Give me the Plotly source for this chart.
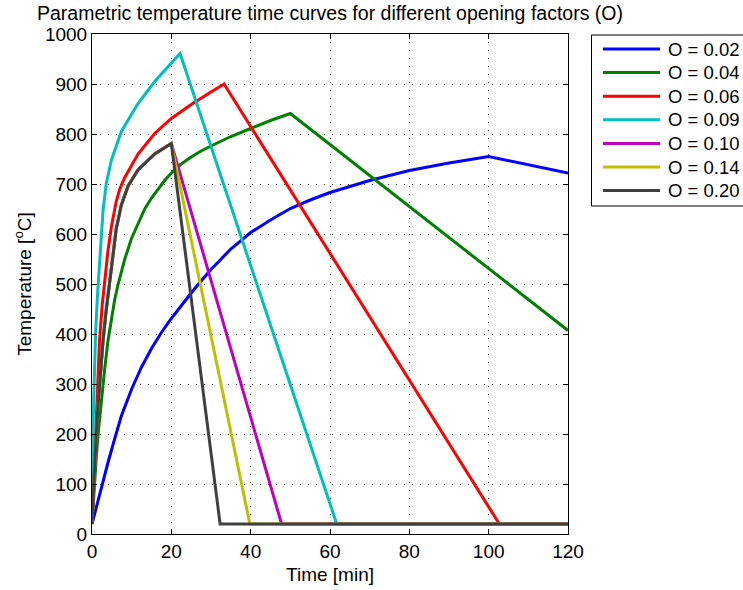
import plotly.graph_objects as go

# ---- data ----
labels = ["O = 0.02", "O = 0.04", "O = 0.06", "O = 0.09", "O = 0.10", "O = 0.14", "O = 0.20"]
colors = ["#0000FF", "#008000", "#FF0000", "#00BFBF", "#BF00BF", "#BFBF00", "#404040"]

t_002 = [0, 0.5, 1.5, 2.8, 4, 5.7, 7.4, 10, 12.5, 15, 17.5, 20, 22.5, 25, 27.5, 30, 35, 40, 45, 50, 55,
         60, 70, 80, 90, 100, 120]
T_002 = [20, 36, 67, 107, 142, 190, 236, 290, 334, 371, 403, 431, 457, 482, 506, 529, 570, 603, 628, 651, 668,
         683, 707, 727, 742, 755, 722]

t_004 = [0, 0.3, 0.6, 1.1, 1.6, 2.35, 3.2, 4, 4.8, 5.7, 6.6, 7.4, 8.2, 9.9, 11.5, 13.3, 15, 16.6, 18.3,
         20, 22.5, 25, 27.5, 30, 35, 40, 45, 50, 120]
T_004 = [20, 60, 100, 155, 205, 268, 330, 385, 428, 468, 500, 525, 548, 590, 620, 650, 672, 690, 707,
         722, 740, 754, 766, 776, 795, 811, 827, 841, 407]

t_006 = [0, 0.3, 0.8, 1.3, 1.9, 2.6, 3.2, 4, 4.9, 6.1, 7, 8.2, 11.6, 15.8, 20, 25, 30, 33.3, 102.7, 120]
T_006 = [20, 80, 188, 290, 388, 460, 510, 565, 615, 665, 690, 712, 760, 801, 831, 859, 884, 900, 20, 20]

t_009 = [0, 0.05, 0.5, 0.9, 1.4, 2.2, 2.8, 3.6, 4.9, 7.4, 11.6, 15.8, 20, 22.2, 61.7, 120]
T_009 = [20, 140, 288, 400, 480, 581, 648, 701, 748, 805, 861, 905, 941, 961, 20, 20]

t_010 = [0, 0.5, 1, 1.5, 2.2, 2.8, 3.5, 4.2, 5.3, 6.1, 7.4, 9.1, 11.6, 15.8, 20, 47.8, 120]
T_010 = [20, 110, 190, 255, 330, 388, 442, 490, 566, 610, 658, 696, 728, 760, 781, 20, 20]

t_014 = [0, 0.5, 1, 1.5, 2.2, 2.8, 3.5, 4.2, 5.3, 6.1, 7.4, 9.1, 11.6, 15.8, 20, 39.8, 120]
T_014 = [20, 110, 190, 255, 330, 388, 442, 490, 566, 610, 658, 696, 728, 760, 781, 20, 20]

t_020 = [0, 0.5, 1, 1.5, 2.2, 2.8, 3.5, 4.2, 5.3, 6.1, 7.4, 9.1, 11.6, 15.8, 20, 32.3, 120]
T_020 = [20, 110, 190, 255, 330, 388, 442, 490, 566, 610, 658, 696, 728, 760, 781, 20, 20]

x_ticks = [0, 20, 40, 60, 80, 100, 120]
y_ticks = [0, 100, 200, 300, 400, 500, 600, 700, 800, 900, 1000]

series_t = [t_002, t_004, t_006, t_009, t_010, t_014, t_020]
series_T = [T_002, T_004, T_006, T_009, T_010, T_014, T_020]

FONT = "Liberation Sans, Arial, Helvetica, sans-serif"

# plot-area geometry in pixels
W, H = 743, 590
L, R, TOP, BOT = 92, 568, 34, 534


def px_x(p):
    return (p - L) / (R - L)


def px_y(p):
    return (BOT - p) / (BOT - TOP)


fig = go.Figure()
for lab, col, tt, TT in zip(labels, colors, series_t, series_T):
    fig.add_trace(go.Scatter(x=tt, y=TT, mode="lines", name=lab, showlegend=False,
                             line=dict(color=col, width=3)))

axis_common = dict(
    showline=True, linecolor="black", linewidth=1, mirror="ticks",
    ticks="inside", ticklen=5, tickcolor="black", tickwidth=1,
    showgrid=True, gridcolor="#444444", gridwidth=1, griddash="1px,7px",
    zeroline=False, tickfont=dict(size=19, color="black", family=FONT),
)

fig.update_xaxes(range=[0, 120], tickvals=x_ticks, **axis_common,
                 title=dict(text="Time [min]", font=dict(size=19, family=FONT, color="black"), standoff=6))
fig.update_yaxes(range=[0, 1000], tickvals=y_ticks, **axis_common,
                 title=dict(text="Temperature [<sup>o</sup>C]", font=dict(size=19, family=FONT, color="black"), standoff=8))

# legend box (MATLAB-style), partly cut by the right edge like the reference
shapes = [dict(type="rect", xref="paper", yref="paper",
               x0=px_x(591.5), x1=px_x(770), y0=px_y(206), y1=px_y(35),
               line=dict(color="black", width=1), fillcolor="white", layer="above")]
annotations = []
for i, (lab, col) in enumerate(zip(labels, colors)):
    yc = 49 + 23.6 * i
    shapes.append(dict(type="line", xref="paper", yref="paper",
                       x0=px_x(603), x1=px_x(660), y0=px_y(yc), y1=px_y(yc),
                       line=dict(color=col, width=3), layer="above"))
    annotations.append(dict(text=lab, xref="paper", yref="paper", x=px_x(666), y=px_y(yc),
                            xanchor="left", yanchor="middle", showarrow=False,
                            font=dict(size=18.5, family=FONT, color="black")))

fig.update_layout(
    width=W, height=H,
    margin=dict(l=L, r=W - R, t=TOP, b=H - BOT, autoexpand=False),
    paper_bgcolor="white", plot_bgcolor="white",
    font=dict(family=FONT, color="black", size=19),
    title=dict(text="Parametric temperature time curves for different opening factors (O)",
               x=(L + R) / 2 / W, xanchor="center", xref="container",
               y=1 - 13 / H, yanchor="middle", yref="container",
               font=dict(size=19.5, family=FONT, color="black")),
    shapes=shapes, annotations=annotations,
    showlegend=False,
)

fig.write_html("out.html")
